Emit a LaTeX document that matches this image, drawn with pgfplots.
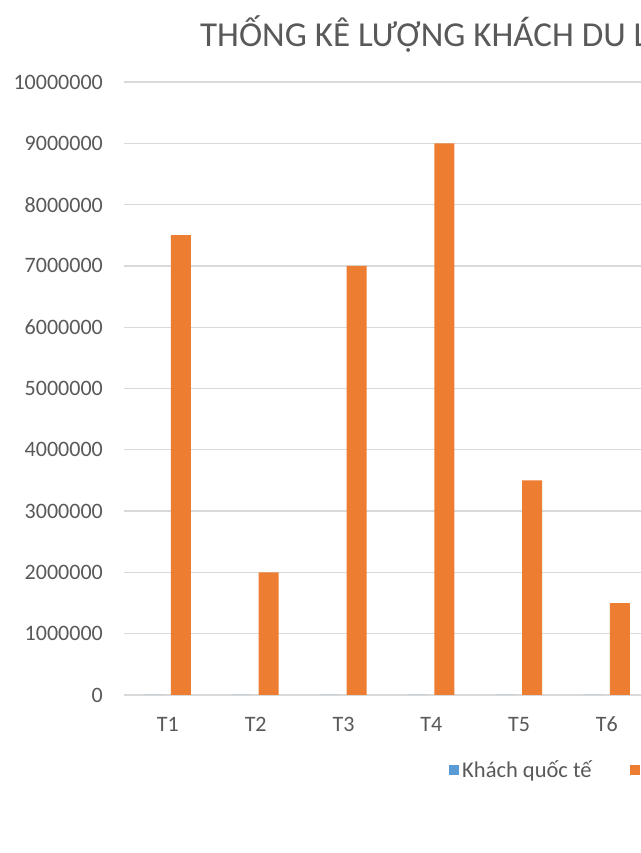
\documentclass[border=0pt]{standalone}
\usepackage{pgfplots}
\pgfplotsset{compat=1.18}
\usepackage{fontspec}
\setmainfont{Carlito}
\definecolor{txt}{HTML}{595959}
\definecolor{gridc}{HTML}{D9D9D9}
\definecolor{cblue}{HTML}{5B9BD5}
\definecolor{corange}{HTML}{ED7D31}
\begin{document}
\begin{tikzpicture}
\useasboundingbox (0,0) rectangle (640pt,853pt);
\fill[white] (0,0) rectangle (640pt,853pt);
\node[anchor=base west, inner sep=0pt, text=txt, font=\fontsize{35}{40}\selectfont] at (200pt,806pt) {THỐNG KÊ LƯỢNG KHÁCH DU LỊCH};
\begin{axis}[
  at={(124pt,158pt)}, anchor=south west,
  scale only axis, width=1053.6pt, height=613pt,
  xmin=-0.5, xmax=11.5, ymin=0, ymax=10000000,
  xtick={0,...,5},
  xticklabels={T1,T2,T3,T4,T5,T6},
  ytick distance=1000000,
  scaled y ticks=false,
  /pgf/number format/.cd, fixed, set thousands separator={}, assume math mode=true,
  /pgfplots/.cd,
  major tick length=0pt,
  ymajorgrids, grid style={gridc, line width=1.3pt},
  axis x line*=bottom, axis y line*=left,
  x axis line style={gridc, line width=1.3pt, -},
  y axis line style={draw=none},
  ticklabel style={text=txt, font=\fontsize{22}{26}\selectfont, inner sep=0pt},
  yticklabel style={anchor=east, xshift=-21pt},
  xticklabel style={anchor=base, yshift=-37pt},
  ybar, bar width=20pt,
  legend columns=2,
  legend style={at={(0.3085,-0.1223)}, anchor=west, draw=none, fill=none, inner sep=0pt,
    font=\fontsize{22.5}{26}\selectfont, text=txt,
    nodes={inner sep=3pt},
    /tikz/every even column/.append style={column sep=35pt}},
  legend image code/.code={\fill[#1] (0pt,-5pt) rectangle (10pt,5pt);},
]
\addplot[fill=cblue, draw=none, bar shift=-13pt] coordinates {(0,0) (1,0) (2,0) (3,0) (4,0) (5,0)};
\addplot[fill=corange, draw=none, bar shift=13pt] coordinates {(0,7500000) (1,2000000) (2,7000000) (3,9000000) (4,3500000) (5,1500000)};
\legend{Khách quốc tế, Khách nội địa}
\end{axis}
\end{tikzpicture}
\end{document}
